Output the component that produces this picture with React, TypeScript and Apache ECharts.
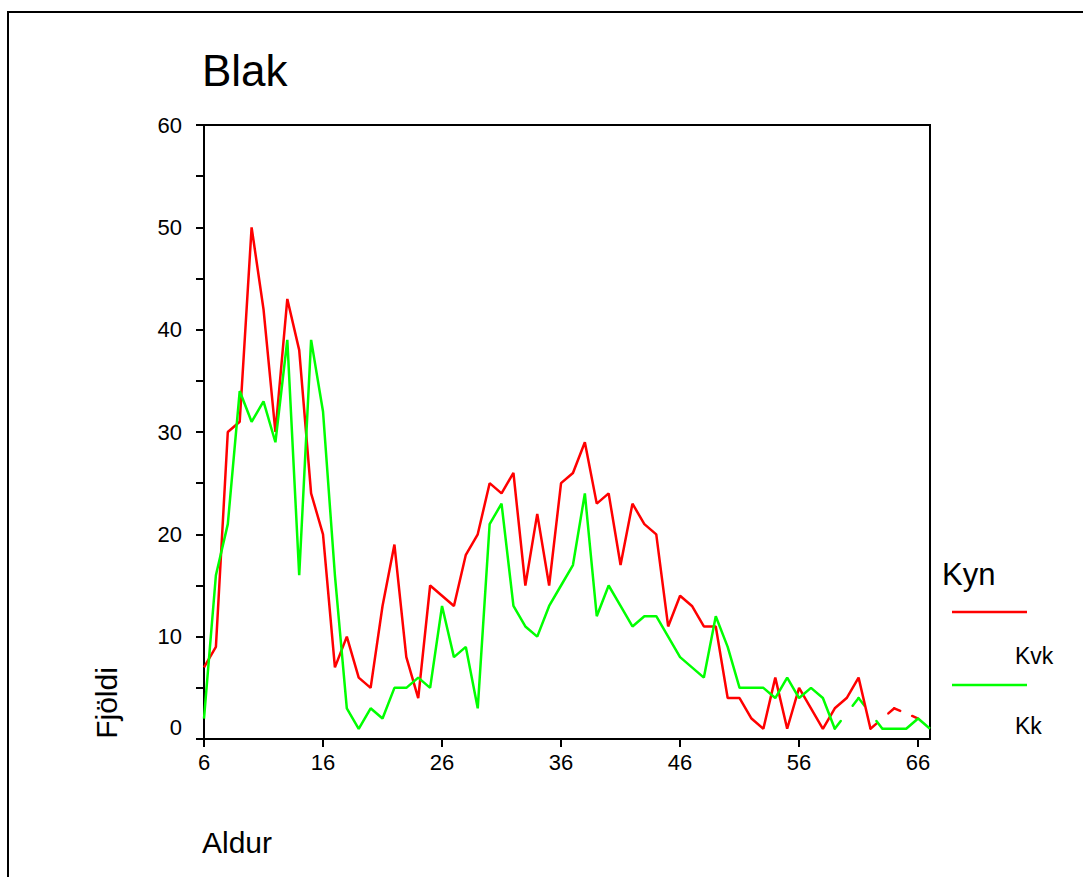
import React, { useEffect, useRef } from "react";
import * as echarts from "echarts";

// Age categories (x axis)
const ages: number[] = [
  6, 7, 8, 9, 10, 11, 12, 13, 14, 15, 16, 17, 18, 19, 20, 21, 22, 23, 24, 25,
  26, 27, 28, 29, 30, 31, 32, 33, 34, 35, 36, 37, 38, 39, 40, 41, 42, 43, 44, 45,
  46, 47, 48, 49, 50, 51, 52, 53, 54, 55, 56, 57, 58, 59, 60, 61, 62, 63, 64, 65,
  66, 67,
];

// Kvk (red) counts per age; null = no value
const kvk: (number | null)[] = [
  7, 9, 30, 31, 50, 42, 30, 43, 38, 24, 20, 7, 10, 6, 5, 13, 19, 8, 4, 15,
  14, 13, 18, 20, 25, 24, 26, 15, 22, 15, 25, 26, 29, 23, 24, 17, 23, 21, 20, 11,
  14, 13, 11, 11, 4, 4, 2, 1, 6, 1, 5, 3, 1, 3, 4, 6, 1, null, 3, null,
  2, null,
];

// Kk (green) counts per age; null = no value
const kk: (number | null)[] = [
  2, 16, 21, 34, 31, 33, 29, 39, 16, 39, 32, 16, 3, 1, 3, 2, 5, 5, 6, 5,
  13, 8, 9, 3, 21, 23, 13, 11, 10, 13, 15, 17, 24, 12, 15, 13, 11, 12, 12, 10,
  8, 7, 6, 12, 9, 5, 5, 5, 4, 6, 4, 5, 4, 1, null, 4, null, 1, 1, 1,
  2, 1,
];

const seriesNames = ["Kvk", "Kk"];
const seriesColors = ["#ff0000", "#00ff00"];
const titleText = "Blak";
const xTitle = "Aldur";
const yTitle = "Fjöldi";
const legendTitle = "Kyn";

const FONT = '"Liberation Sans", Arial, sans-serif';
const LW = 2.5;

// Items for bridging gaps: [startIndex, startValue, endIndex, endValue]
function gapStubs(vals: (number | null)[]): number[][] {
  const out: number[][] = [];
  for (let i = 0; i < vals.length; i++) {
    if (vals[i] == null) continue;
    let j = i + 1;
    while (j < vals.length && vals[j] == null) j++;
    if (j < vals.length && j > i + 1) out.push([i, vals[i] as number, j, vals[j] as number]);
  }
  return out;
}

function stubSeries(vals: (number | null)[], color: string, name: string) {
  return {
    type: "custom",
    name,
    data: gapStubs(vals),
    encode: { x: [0, 2], y: [1, 3] },
    silent: true,
    renderItem: (params: any, api: any) => {
      const i0 = api.value(0);
      const v0 = api.value(1);
      const i1 = api.value(2);
      const v1 = api.value(3);
      const a = api.coord([i0, v0]);
      const b = api.coord([i1, v1]);
      const t = 0.5 / (i1 - i0);
      const dx = (b[0] - a[0]) * t;
      const dy = (b[1] - a[1]) * t;
      const style = { stroke: color, lineWidth: LW, lineCap: "round", fill: null };
      return {
        type: "group",
        children: [
          { type: "line", shape: { x1: a[0], y1: a[1], x2: a[0] + dx, y2: a[1] + dy }, style },
          { type: "line", shape: { x1: b[0] - dx, y1: b[1] - dy, x2: b[0], y2: b[1] }, style },
        ],
      };
    },
  };
}

export default function App() {
  const ref = useRef<HTMLDivElement>(null);

  useEffect(() => {
    if (!ref.current) return;
    const chart = echarts.init(ref.current, undefined, { renderer: "svg" });
    const option: any = {
      animation: false,
      backgroundColor: "#ffffff",
      grid: {
        left: 204,
        right: 153,
        top: 125,
        bottom: 138,
        show: true,
        borderColor: "#000",
        borderWidth: 2,
        backgroundColor: "transparent",
      },
      xAxis: {
        type: "category",
        data: ages.map(String),
        boundaryGap: false,
        axisLine: { lineStyle: { color: "#000", width: 2 } },
        axisTick: { interval: 9, length: 8, lineStyle: { color: "#000", width: 2 } },
        axisLabel: { interval: 9, color: "#000", fontSize: 22, margin: 12, fontFamily: FONT },
        splitLine: { show: false },
      },
      yAxis: {
        type: "value",
        min: 0,
        max: 60,
        interval: 5,
        axisLine: { show: true, lineStyle: { color: "#000", width: 2 } },
        axisTick: { show: true, length: 8, lineStyle: { color: "#000", width: 2 } },
        axisLabel: {
          color: "#000",
          fontSize: 22,
          margin: 22,
          fontFamily: FONT,
          formatter: (v: number) => (v % 10 === 0 ? (v === 0 ? "{z|0}" : String(v)) : ""),
          rich: { z: { fontSize: 22, color: "#000", fontFamily: FONT, padding: [0, 0, 24, 0] } },
        },
        splitLine: { show: false },
      },
      series: [
        {
          type: "line",
          name: seriesNames[0],
          data: kvk,
          showSymbol: false,
          connectNulls: false,
          lineStyle: { color: seriesColors[0], width: LW },
          itemStyle: { color: seriesColors[0] },
        },
        stubSeries(kvk, seriesColors[0], seriesNames[0]),
        {
          type: "line",
          name: seriesNames[1],
          data: kk,
          showSymbol: false,
          connectNulls: false,
          lineStyle: { color: seriesColors[1], width: LW },
          itemStyle: { color: seriesColors[1] },
        },
        stubSeries(kk, seriesColors[1], seriesNames[1]),
      ],
      graphic: [
        {
          type: "rect",
          shape: { x: 8, y: 12, width: 1200, height: 1000 },
          style: { fill: null, stroke: "#000", lineWidth: 2 },
          silent: true,
        },
        {
          type: "text",
          x: 202,
          y: 70,
          style: { text: titleText, font: `44px ${FONT}`, fill: "#000", align: "left", verticalAlign: "middle" },
        },
        {
          type: "text",
          x: 106,
          y: 703,
          rotation: Math.PI / 2,
          style: { text: yTitle, font: `30px ${FONT}`, fill: "#000", align: "center", verticalAlign: "middle" },
        },
        {
          type: "text",
          x: 202,
          y: 842,
          style: { text: xTitle, font: `30px ${FONT}`, fill: "#000", align: "left", verticalAlign: "middle" },
        },
        {
          type: "text",
          x: 942,
          y: 574,
          style: { text: legendTitle, font: `31px ${FONT}`, fill: "#000", align: "left", verticalAlign: "middle" },
        },
        {
          type: "line",
          shape: { x1: 952, y1: 612, x2: 1027, y2: 612 },
          style: { stroke: seriesColors[0], lineWidth: LW },
        },
        {
          type: "text",
          x: 1015,
          y: 656,
          style: { text: seriesNames[0], font: `23px ${FONT}`, fill: "#000", align: "left", verticalAlign: "middle" },
        },
        {
          type: "line",
          shape: { x1: 952, y1: 685, x2: 1027, y2: 685 },
          style: { stroke: seriesColors[1], lineWidth: LW },
        },
        {
          type: "text",
          x: 1015,
          y: 726,
          style: { text: seriesNames[1], font: `23px ${FONT}`, fill: "#000", align: "left", verticalAlign: "middle" },
        },
      ],
    };
    chart.setOption(option);
    return () => chart.dispose();
  }, []);

  return (
    <div
      ref={ref}
      style={{ position: "absolute", left: 0, top: 0, width: 1083, height: 877 }}
    />
  );
}
